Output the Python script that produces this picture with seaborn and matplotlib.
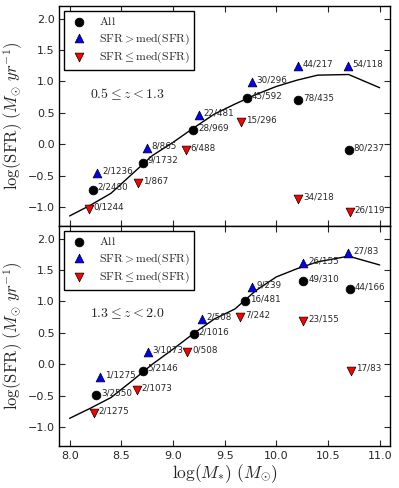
import numpy as np
import pandas as pd
import matplotlib
matplotlib.use('Agg')
import matplotlib.pyplot as plt
import seaborn as sns

# ---- data: 0.5 <= z < 1.3 ----
lo_all_x = [8.223, 8.708, 9.196, 9.713, 10.21, 10.70]
lo_all_y = [-0.72, -0.29, 0.22, 0.73, 0.70, -0.09]
lo_all_lab = ['2/2480', '9/1732', '28/969', '45/592', '78/435', '80/237']

lo_hi_x = [8.268, 8.747, 9.250, 9.762, 10.21, 10.69]
lo_hi_y = [-0.46, -0.06, 0.47, 0.99, 1.25, 1.25]
lo_hi_lab = ['2/1236', '8/865', '22/481', '30/296', '44/217', '54/118']

lo_lo_x = [8.187, 8.665, 9.125, 9.659, 10.21, 10.71]
lo_lo_y = [-1.03, -0.62, -0.09, 0.36, -0.87, -1.08]
lo_lo_lab = ['0/1244', '1/867', '6/488', '15/296', '34/218', '26/119']

lo_line_x = [8.0, 8.2, 8.4, 8.6, 8.8, 9.0, 9.2, 9.4, 9.6, 9.8, 10.0, 10.2, 10.4, 10.7, 11.0]
lo_line_y = [-1.14, -0.97, -0.78, -0.48, -0.18, 0.03, 0.26, 0.48, 0.64, 0.79, 0.92, 1.02, 1.10, 1.11, 0.90]

# ---- data: 1.3 <= z < 2.0 ----
hi_all_x = [8.258, 8.708, 9.203, 9.700, 10.263, 10.712]
hi_all_y = [-0.49, -0.10, 0.48, 1.01, 1.32, 1.19]
hi_all_lab = ['3/2550', '5/2146', '2/1016', '16/481', '49/310', '44/166']

hi_hi_x = [8.297, 8.757, 9.280, 9.761, 10.26, 10.696]
hi_hi_y = [-0.21, 0.19, 0.72, 1.23, 1.61, 1.77]
hi_hi_lab = ['1/1275', '3/1073', '2/508', '9/239', '26/155', '27/83']

hi_lo_x = [8.236, 8.650, 9.138, 9.649, 10.26, 10.725]
hi_lo_y = [-0.77, -0.41, 0.20, 0.75, 0.69, -0.10]
hi_lo_lab = ['2/1275', '2/1073', '0/508', '7/242', '23/155', '17/83']

hi_line_x = [8.0, 8.2, 8.4, 8.6, 8.8, 9.0, 9.2, 9.4, 9.6, 9.8, 10.0, 10.2, 10.4, 10.7, 11.0]
hi_line_y = [-0.86, -0.70, -0.53, -0.27, 0.00, 0.24, 0.49, 0.72, 0.88, 1.17, 1.39, 1.52, 1.63, 1.72, 1.58]

sns.set_style('white')
plt.rcParams['font.family'] = ['DejaVu Sans']
plt.rcParams['mathtext.fontset'] = 'cm'
plt.rcParams['xtick.direction'] = 'in'
plt.rcParams['ytick.direction'] = 'in'
plt.rcParams['xtick.top'] = True
plt.rcParams['ytick.right'] = True
plt.rcParams['xtick.bottom'] = True
plt.rcParams['ytick.left'] = True
plt.rcParams['xtick.major.size'] = 4
plt.rcParams['ytick.major.size'] = 4
plt.rcParams['xtick.labelsize'] = 8
plt.rcParams['ytick.labelsize'] = 8

fig = plt.figure(figsize=(3.99, 4.88), dpi=100)
ax1 = fig.add_axes([0.1486, 0.5369, 0.8288, 0.4508])
ax2 = fig.add_axes([0.1486, 0.0861, 0.8288, 0.4508])

ylab = r'$\log({\rm SFR})\ (M_{\odot}\ yr^{-1})$'


def panel(ax, ax_, ay_, al_, hx_, hy_, hl_, lx_, ly_, ll_, linex, liney, ztxt):
    sns.lineplot(x=linex, y=liney, color='k', lw=1, ax=ax)
    sns.scatterplot(x=ax_, y=ay_, color='k', marker='o', s=40, edgecolor='k',
                    linewidth=0.5, label=r'${\rm All}$', ax=ax, zorder=3)
    sns.scatterplot(x=hx_, y=hy_, color='b', marker='^', s=40, edgecolor='k',
                    linewidth=0.5, label=r'${\rm SFR > med(SFR)}$', ax=ax, zorder=3)
    sns.scatterplot(x=lx_, y=ly_, color='r', marker='v', s=40, edgecolor='k',
                    linewidth=0.5, label=r'${\rm SFR \leq med(SFR)}$', ax=ax, zorder=3)
    for xs, ys, ls in [(ax_, ay_, al_), (hx_, hy_, hl_), (lx_, ly_, ll_)]:
        for x, y, l in zip(xs, ys, ls):
            ax.annotate(l, (x, y), xytext=(3.5, 1.5), textcoords='offset points',
                        fontsize=6.3, va='center', ha='left')
    ax.text(8.2, 0.8, ztxt, fontsize=10, va='center', ha='left')
    ax.set_xlim(7.9, 11.1)
    ax.set_ylim(-1.3, 2.2)
    ax.set_xticks([8.0, 8.5, 9.0, 9.5, 10.0, 10.5, 11.0])
    ax.set_yticks([-1.0, -0.5, 0.0, 0.5, 1.0, 1.5, 2.0])
    ax.set_ylabel(ylab, fontsize=12)
    ax.yaxis.set_label_coords(-0.105, 0.5)
    for s in ax.spines.values():
        s.set_color('k')
        s.set_linewidth(1)
    ax.legend(loc='upper left', fontsize=8.5, frameon=True, fancybox=False,
              edgecolor='k', framealpha=1, scatterpoints=1, handlelength=1.75,
              handletextpad=0.8, borderaxespad=0.4, labelspacing=0.25)


panel(ax1, lo_all_x, lo_all_y, lo_all_lab, lo_hi_x, lo_hi_y, lo_hi_lab,
      lo_lo_x, lo_lo_y, lo_lo_lab, lo_line_x, lo_line_y, r'$0.5 \leq z < 1.3$')
panel(ax2, hi_all_x, hi_all_y, hi_all_lab, hi_hi_x, hi_hi_y, hi_hi_lab,
      hi_lo_x, hi_lo_y, hi_lo_lab, hi_line_x, hi_line_y, r'$1.3 \leq z < 2.0$')

ax1.set_xticklabels([])
ax1.set_xlabel('')
ax2.set_xlabel(r'$\log(M_{*})\ (M_{\odot})$', fontsize=12.5)
ax2.xaxis.set_label_coords(0.5, -0.075)

fig.savefig('out.png', dpi=100)
